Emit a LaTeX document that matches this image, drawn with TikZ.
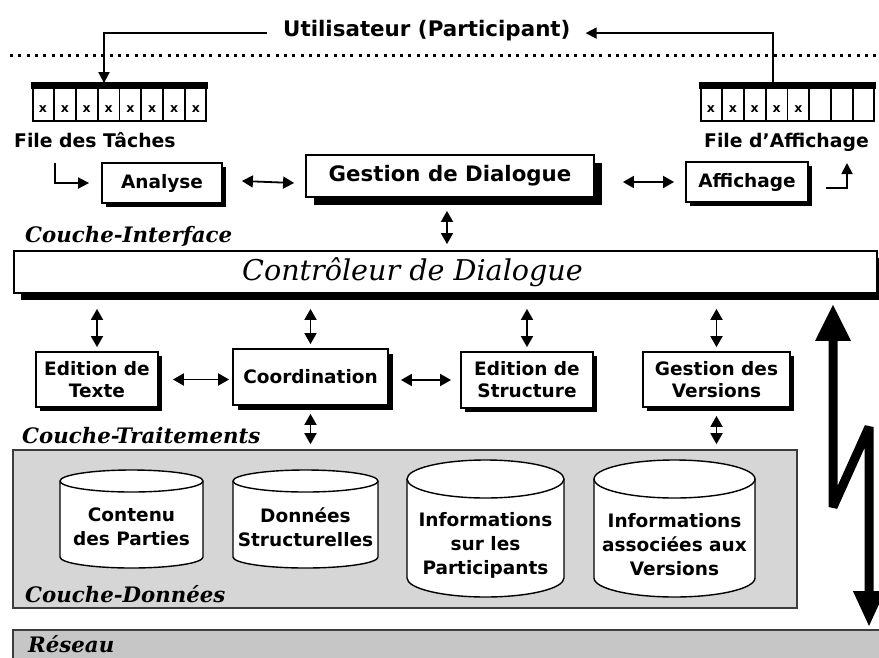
\documentclass[tikz,border=0pt]{standalone}
\usepackage{fontspec}
\setmainfont{DejaVu Sans}
\newfontfamily\serifit{DejaVu Serif}
\usetikzlibrary{arrows.meta,calc,positioning,shadows}
\definecolor{layerFill}{HTML}{D6D6D6}
\definecolor{netFill}{HTML}{C6C6C6}
\definecolor{layerEdge}{HTML}{3C3C3C}
\tikzset{
  modbox/.style={draw, fill=white, line width=1.8pt, align=center, inner sep=0pt,
        font=\bfseries\fontsize{18.5}{22}\selectfont,
        drop shadow={shadow xshift=#1, shadow yshift=-#1, opacity=1, fill=black}},
  modbox/.default=4pt,
  queue/.style={draw, line width=1.8pt, minimum width=173pt, minimum height=37pt, inner sep=0pt},
  qline/.style={line width=1.8pt},
  cellx/.style={font=\bfseries\fontsize{12.5}{12.5}\selectfont, inner sep=0pt},
  qlabel/.style={font=\bfseries\fontsize{18.8}{22}\selectfont, inner sep=0pt, anchor=base west},
  layerlbl/.style={font=\serifit\bfseries\itshape\fontsize{21.3}{25}\selectfont, inner sep=0pt, anchor=base west},
  layer/.style={draw=layerEdge, fill=#1, line width=1.6pt, inner sep=0pt},
  cyl/.style={draw, fill=white, line width=1.4pt},
  cyltxt/.style={font=\bfseries\fontsize{18.5}{24}\selectfont, align=center, inner sep=0pt},
  one/.style={-{Triangle[length=11pt,width=11pt]}, line width=1.8pt},
  dbl/.style={{Triangle[length=11pt,width=12pt]}-{Triangle[length=11pt,width=12pt]}, line width=1.8pt},
  dotline/.style={line width=3pt, dash pattern=on 3pt off 5.3pt},
  bolt/.style={line width=9pt, line join=bevel,
        {Triangle[length=37pt,width=33pt]}-{Triangle[length=36pt,width=29pt]}},
}
\begin{document}
\begin{tikzpicture}[x=1pt,y=1pt]
  \useasboundingbox (0,0) rectangle (879,-657);
  % --- user, border line and queues ---
  \node[font=\bfseries\fontsize{21.4}{25}\selectfont, inner sep=0pt, anchor=base west] (user) at (283,-36) {Utilisateur (Participant)};
  \coordinate (dotL) at (10,-55); \coordinate (dotR) at (879,-55);
  \draw[dotline] (dotL) -- (dotR);
  \node[queue] (qtache) at (119.5,-102.5) {};
  \node[queue] (qaff) at (787.5,-102.5) {};
  \foreach \q/\n in {qtache/8,qaff/5}{
    \fill ([xshift=-0.9pt,yshift=0.9pt]\q.north west) rectangle ([xshift=0.9pt,yshift=-6pt]\q.north east);
    \foreach \i in {1,...,7}
      \draw[qline] ($(\q.north west)!\i/8!(\q.north east)$) -- ($(\q.south west)!\i/8!(\q.south east)$);
    \foreach \i in {1,...,\n}
      \node[cellx] (\q-\i) at ($(\q.south west)!{(\i-0.5)/8}!(\q.south east)+(0,13)$) {x};
  }
  \node[qlabel] (ftache) at (14,-147) {File des Tâches};
  \node[qlabel] (faff) at (704,-147) {File d'Affichage};
  \draw[one] ([xshift=-16pt,yshift=-3pt]user.west) -| ([xshift=-15.5pt]qtache.north);
  \draw[one] ([xshift=-14.5pt]qaff.north) |- ([xshift=15pt,yshift=-3pt]user.east);
  % --- interface layer ---
  \node[modbox, minimum width=120pt, minimum height=40pt] (ana) at (162,-183) {Analyse};
  \node[modbox=8pt, minimum width=288pt, minimum height=42pt,
        font=\bfseries\fontsize{21.3}{25}\selectfont] (gd) at (450,-176) {Gestion de Dialogue};
  \node[modbox, minimum width=122pt, minimum height=40pt] (aff) at (747,-182) {Affichage};
  \draw[dbl] ([xshift=19pt,yshift=2pt]ana.east) -- ([xshift=-11pt]gd.west |- ana.east);
  \draw[dbl] ([xshift=28pt]gd.east |- aff.west) -- ([xshift=-11pt]aff.west);
  \coordinate (tin) at (55,-163);
  \draw[one] (tin) |- ([xshift=-12pt]ana.west);
  \coordinate (tout) at (847,-163);
  \draw[one] ([xshift=17pt,yshift=-6pt]aff.east) -| (tout);
  \node[layerlbl] (lint) at (25,-242) {Couche-Interface};
  \node[modbox=7pt, minimum width=863pt, minimum height=42pt,
        font=\serifit\itshape\fontsize{28.6}{32}\selectfont] (ctrl) at (445.5,-272)
        {Contrôleur de Dialogue\hspace*{66pt}};
  \draw[dbl] ([xshift=-3pt,yshift=-13pt]gd.south) -- ([xshift=-3pt,yshift=6pt]ctrl.north -| gd.south);
  % --- treatments layer ---
  \node[modbox, minimum width=122pt, minimum height=55pt] (edtxt) at (97,-379.5) {Edition de\\Texte};
  \node[modbox=5pt, minimum width=155pt, minimum height=56pt] (coord) at (310.5,-377) {Coordination};
  \node[modbox, minimum width=132pt, minimum height=56pt] (edstr) at (527,-380) {Edition de\\Structure};
  \node[modbox, minimum width=147pt, minimum height=55pt] (gver) at (716.5,-379.5) {Gestion des\\Versions};
  \foreach \b in {edtxt,coord,edstr,gver}
    \draw[dbl] ([yshift=-15pt]ctrl.south -| \b.north) -- ([yshift=4pt]\b.north);
  \draw[dbl] ([xshift=14pt]edtxt.east) -- ([xshift=-3pt]coord.west |- edtxt.east);
  \draw[dbl] ([xshift=12pt]coord.east |- edstr.west) -- ([xshift=-9pt]edstr.west);
  \node[layerlbl] (ltrt) at (22,-443) {Couche-Traitements};
  % --- data layer ---
  \node[layer=layerFill, minimum width=784pt, minimum height=158pt] (don) at (405,-529) {};
  \foreach \b in {coord,gver}
    \draw[dbl] ([yshift=-8pt]\b.south) -- ([yshift=5pt]don.north -| \b.south);
  \foreach \nm/\xl/\xr/\yt/\yb/\ry/\ty/\txt in {
      cont/60/203/470/568/11/527/{Contenu\\des Parties},
      dstr/233/378/470/568/11/527/{Données\\Structurelles},
      ipart/407/564/460/597/19/545/{Informations\\sur les\\Participants},
      iver/594/755/460/597/19/545/{Informations\\associées aux\\Versions}}{
    \draw[cyl] (\xl,-\yt-\ry) -- (\xl,-\yb+\ry)
      arc[start angle=180,end angle=360,x radius={(\xr-\xl)/2},y radius=\ry]
      -- (\xr,-\yt-\ry)
      arc[start angle=0,end angle=180,x radius={(\xr-\xl)/2},y radius=\ry] -- cycle;
    \draw[cyl] (\xl,-\yt-\ry) arc[start angle=180,end angle=360,x radius={(\xr-\xl)/2},y radius=\ry];
    \node[cyltxt] (\nm) at ({(\xl+\xr)/2},-\ty) {\txt};
  }
  \node[layerlbl] (ldon) at (25,-602) {Couche-Données};
  % --- network ---
  \node[layer=netFill, minimum width=880pt, minimum height=44pt] (res) at (453,-652) {};
  \node[layerlbl] (lres) at (28,-652) {Réseau};
  \coordinate (boltA) at (833,-507); \coordinate (boltB) at (869,-427);
  \draw[bolt] ([yshift=-10pt]ctrl.south -| boltA) -- (boltA) -- (boltB) -- ([yshift=2pt]res.north -| boltB);
\end{tikzpicture}
\end{document}
